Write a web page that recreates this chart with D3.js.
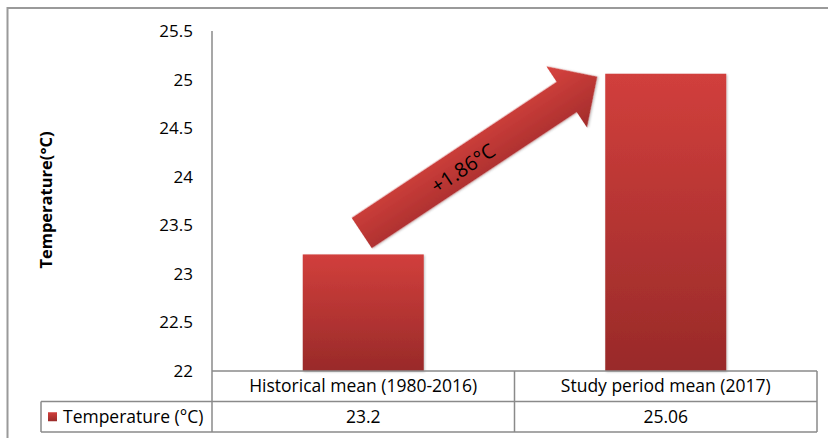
<!DOCTYPE html>
<html><head><meta charset="utf-8">
<script src="https://cdn.jsdelivr.net/npm/d3@7"></script>
<style>
html,body{margin:0;padding:0;background:#fff;}
svg{display:block;}
text{font-family:"Open Sans","Noto Sans",sans-serif;fill:#000;}
</style></head>
<body><svg id="c" width="828" height="438"></svg>
<script>
const categories = ["Historical mean (1980-2016)", "Study period mean (2017)"];
const values = [23.2, 25.06];
const seriesName = "Temperature (°C)";
const yTicks = [22, 22.5, 23, 23.5, 24, 24.5, 25, 25.5];
const yTitle = "Temperature(°C)";
const arrowLabel = "+1.86°C";

const svg = d3.select("#c");
const W = 828, H = 438;
const pLeft = 212, pRight = 817, pTop = 31, pBottom = 371;
const rowH = 30.5;
const tableLeft = 41;
const lineColor = "#8a8a8a";
const FONT = '"Open Sans","Noto Sans",sans-serif';

const x = d3.scaleBand().domain(categories).range([pLeft, pRight]).padding(0);
const y = d3.scaleLinear().domain([22, 25.5]).range([pBottom, pTop]);
const barW = x.bandwidth() * 0.4;

const defs = svg.append("defs");
const g1 = defs.append("linearGradient").attr("id","barGrad").attr("x1",0).attr("y1",0).attr("x2",0).attr("y2",1);
g1.append("stop").attr("offset","0%").attr("stop-color","#d13f3c");
g1.append("stop").attr("offset","100%").attr("stop-color","#992a29");
const f = defs.append("filter").attr("id","sh").attr("x","-10%").attr("y","-10%").attr("width","130%").attr("height","130%");
f.append("feDropShadow").attr("dx",1).attr("dy",1).attr("stdDeviation",1.2).attr("flood-color","#000").attr("flood-opacity",0.25);

// outer border
svg.append("rect").attr("x",7.5).attr("y",8).attr("width",W).attr("height",H)
  .attr("fill","none").attr("stroke","#9a9a9a").attr("stroke-width",2);

// bars
svg.selectAll("rect.bar").data(categories).enter().append("rect").attr("class","bar")
  .attr("x", d => x(d) + (x.bandwidth()-barW)/2)
  .attr("y", (d,i) => y(values[i]))
  .attr("width", barW)
  .attr("height", (d,i) => y(22) - y(values[i]))
  .attr("fill","url(#barGrad)")
  .attr("filter","url(#sh)");

// y axis
const yAxis = d3.axisLeft(y).tickValues(yTicks).tickSize(0).tickPadding(19)
  .tickFormat(d => String(d));
const ya = svg.append("g").attr("transform",`translate(${pLeft},0)`).call(yAxis);
ya.select(".domain").remove();
ya.selectAll("text").style("font-family",FONT).style("font-size","17px").attr("fill","#000");
svg.append("line").attr("x1",pLeft).attr("x2",pLeft).attr("y1",pTop).attr("y2",pBottom+2*rowH)
  .attr("stroke",lineColor).attr("stroke-width",1.5);

// y title
svg.append("text").attr("transform",`translate(46,200) rotate(-90)`).attr("dy","0.35em")
  .attr("text-anchor","middle").style("font-size","16.5px").style("font-weight","bold").text(yTitle);

// table lines
const hl = [[pLeft, pBottom],[tableLeft, pBottom+rowH],[tableLeft, pBottom+2*rowH]];
hl.forEach(([x0,yy]) => svg.append("line").attr("x1",x0).attr("x2",pRight).attr("y1",yy).attr("y2",yy)
  .attr("stroke",lineColor).attr("stroke-width",1.5));
[[tableLeft, pBottom+rowH],[x(categories[1]), pBottom],[pRight, pBottom]].forEach(([xx,y0]) =>
  svg.append("line").attr("x1",xx).attr("x2",xx).attr("y1",y0).attr("y2",pBottom+2*rowH)
   .attr("stroke",lineColor).attr("stroke-width",1.5));

// category labels
svg.selectAll("text.cat").data(categories).enter().append("text").attr("class","cat")
  .attr("x", d => x(d)+x.bandwidth()/2).attr("y", pBottom+rowH/2).attr("dy","0.35em")
  .attr("text-anchor","middle").style("font-size","17.5px").text(d => d);
// values
svg.selectAll("text.val").data(values).enter().append("text").attr("class","val")
  .attr("x", (d,i) => x(categories[i])+x.bandwidth()/2).attr("y", pBottom+rowH*1.5).attr("dy","0.35em")
  .attr("text-anchor","middle").style("font-size","17.5px").text(d => String(d));
// legend key
svg.append("rect").attr("x",48).attr("y",pBottom+rowH*1.5-4.5).attr("width",9).attr("height",9).attr("fill","url(#barGrad)");
svg.append("text").attr("x",63).attr("y",pBottom+rowH*1.5).attr("dy","0.35em").style("font-size","17.5px").text(seriesName);

// arrow annotation
const tail = [x(categories[0]) + x.bandwidth()/2 - 1.5, y(23.42)];
const tip = [x(categories[1]) + (x.bandwidth()-barW)/2 - 8, y(25.03)];
const adx = tip[0]-tail[0], ady = tip[1]-tail[1];
const L = Math.hypot(adx,ady);
const ang = Math.atan2(ady,adx)*180/Math.PI;
const sw = 18.3, hw = 36.7, hl2 = 36.7;
const pts = [[0,-sw],[L-hl2,-sw],[L-hl2,-hw],[L,0],[L-hl2,hw],[L-hl2,sw],[0,sw]];
const ag = svg.append("g").attr("transform",`translate(${tail[0]},${tail[1]}) rotate(${ang})`);
const g3 = defs.append("linearGradient").attr("id","arrGrad2").attr("gradientUnits","userSpaceOnUse")
  .attr("x1",0).attr("y1",-hw).attr("x2",0).attr("y2",hw);
g3.append("stop").attr("offset","0%").attr("stop-color","#d8433f");
g3.append("stop").attr("offset","100%").attr("stop-color","#a22c2b");
ag.append("path").attr("d", d3.line()(pts)+"Z").attr("fill","url(#arrGrad2)").attr("filter","url(#sh)");
ag.append("text").attr("x", L*0.425).attr("y", 2.3).attr("dy","0.35em").attr("text-anchor","middle")
  .style("font-size","20px").text(arrowLabel);
</script></body></html>
